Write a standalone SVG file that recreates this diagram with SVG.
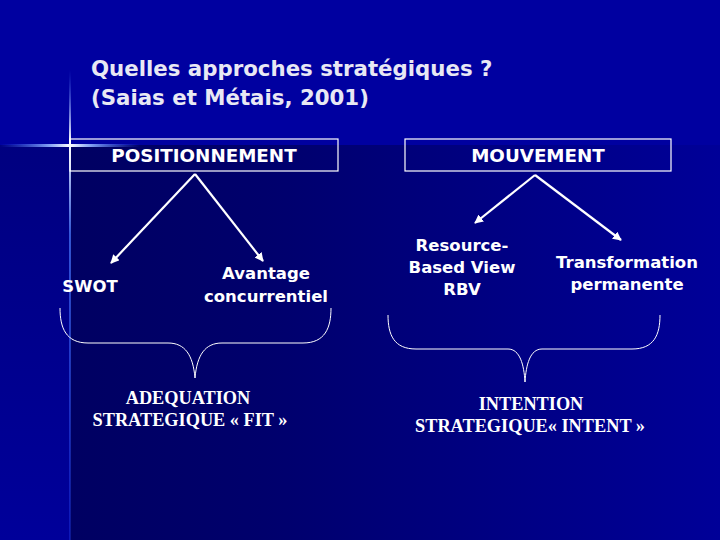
<svg xmlns="http://www.w3.org/2000/svg" width="720" height="540" viewBox="0 0 720 540">
<defs>
<linearGradient id="bgLow" x1="0" y1="0" x2="1" y2="0">
<stop offset="0" stop-color="#000062"/>
<stop offset="0.3" stop-color="#00006c"/>
<stop offset="1" stop-color="#000098"/>
</linearGradient>
<linearGradient id="bgLeft" x1="0" y1="0" x2="0" y2="1">
<stop offset="0" stop-color="#000080"/>
<stop offset="1" stop-color="#00009a"/>
</linearGradient>
<linearGradient id="hflare" x1="0" y1="0" x2="1" y2="0">
<stop offset="0" stop-color="#3a6cff" stop-opacity="0"/>
<stop offset="0.35" stop-color="#8fb0ff" stop-opacity="0.9"/>
<stop offset="0.5" stop-color="#ffffff"/>
<stop offset="0.65" stop-color="#8fb0ff" stop-opacity="0.9"/>
<stop offset="1" stop-color="#3a6cff" stop-opacity="0"/>
</linearGradient>
<linearGradient id="vflare" x1="0" y1="0" x2="0" y2="1">
<stop offset="0" stop-color="#3a6cff" stop-opacity="0"/>
<stop offset="0.15" stop-color="#ffffff"/>
<stop offset="0.35" stop-color="#4a7cff" stop-opacity="0.7"/>
<stop offset="1" stop-color="#2a4cff" stop-opacity="0.3"/>
</linearGradient>
<marker id="ah" viewBox="0 0 10 10" refX="9" refY="5" markerWidth="4" markerHeight="4" orient="auto" markerUnits="strokeWidth">
<path d="M0,0 L10,5 L0,10 z" fill="#ffffff"/>
</marker>
<style>
.title{font-family:"DejaVu Sans","Verdana",sans-serif;font-weight:bold;font-size:21.3px;fill:#e8e8f4}
.box{fill:none;stroke:#ffffff;stroke-width:1.2}
.head{font-family:"DejaVu Sans",sans-serif;font-weight:bold;font-size:18.3px;fill:#ffffff;text-anchor:middle}
.lbl{font-family:"DejaVu Sans",sans-serif;font-weight:bold;font-size:16.5px;fill:#ffffff;text-anchor:middle}
.serif{font-family:"Liberation Serif","Times New Roman",serif;font-weight:bold;font-size:18.3px;fill:#ffffff;text-anchor:middle}
.conn{stroke:#ffffff;stroke-width:2.2;fill:none;marker-end:url(#ah)}
.brace{stroke:#ffffff;stroke-width:1;fill:none}
</style>
</defs>
<rect x="0" y="0" width="720" height="540" fill="#0000a0"/>
<rect x="70" y="145" width="650" height="395" fill="url(#bgLow)"/>
<rect x="0" y="145" width="70" height="395" fill="url(#bgLeft)"/>
<rect x="0" y="144" width="140" height="3" fill="url(#hflare)"/>
<rect x="69" y="70" width="2" height="470" fill="url(#vflare)"/>
<g id="title">
<text class="title" x="91" y="76">Quelles approches stratégiques ?</text>
<text class="title" x="91" y="105">(Saias et Métais, 2001)</text>
</g>
<g id="positionnement">
<rect class="box" x="70" y="139" width="268" height="32"/>
<text class="head" x="204" y="162">POSITIONNEMENT</text>
</g>
<g id="mouvement">
<rect class="box" x="405" y="139" width="266" height="32"/>
<text class="head" x="538" y="162">MOUVEMENT</text>
</g>
<g id="swot">
<text class="lbl" x="90" y="292">SWOT</text>
</g>
<g id="avantage">
<text class="lbl" x="266" y="279">Avantage</text>
<text class="lbl" x="266" y="302">concurrentiel</text>
</g>
<g id="rbv">
<text class="lbl" x="462" y="251">Resource-</text>
<text class="lbl" x="462" y="273">Based View</text>
<text class="lbl" x="462" y="295">RBV</text>
</g>
<g id="transformation">
<text class="lbl" x="627" y="268">Transformation</text>
<text class="lbl" x="627" y="290">permanente</text>
</g>
<g id="fit">
<text class="serif" x="188" y="404">ADEQUATION</text>
<text class="serif" x="190" y="426">STRATEGIQUE « FIT »</text>
</g>
<g id="intent">
<text class="serif" x="531" y="410">INTENTION</text>
<text class="serif" x="530" y="432">STRATEGIQUE« INTENT »</text>
</g>
<g id="connectors">
<path class="conn" d="M195,174 L111,263"/>
<path class="conn" d="M195,174 L263,261"/>
<path class="conn" d="M535,175 L475,223"/>
<path class="conn" d="M535,175 L621,240"/>
<path class="brace" d="M60,308 C60,328 66,343 88,343 L168,343 C185,343 193,355 195,378"/>
<path class="brace" d="M331,308 C331,328 325,343 303,343 L222,343 C205,343 197,355 195,378"/>
<path class="brace" d="M388,315 C388,335 394,349 416,349 L508,349 C520,349 524,365 525,382"/>
<path class="brace" d="M660,315 C660,335 654,349 632,349 L542,349 C530,349 526,365 525,382"/>
</g>
</svg>
